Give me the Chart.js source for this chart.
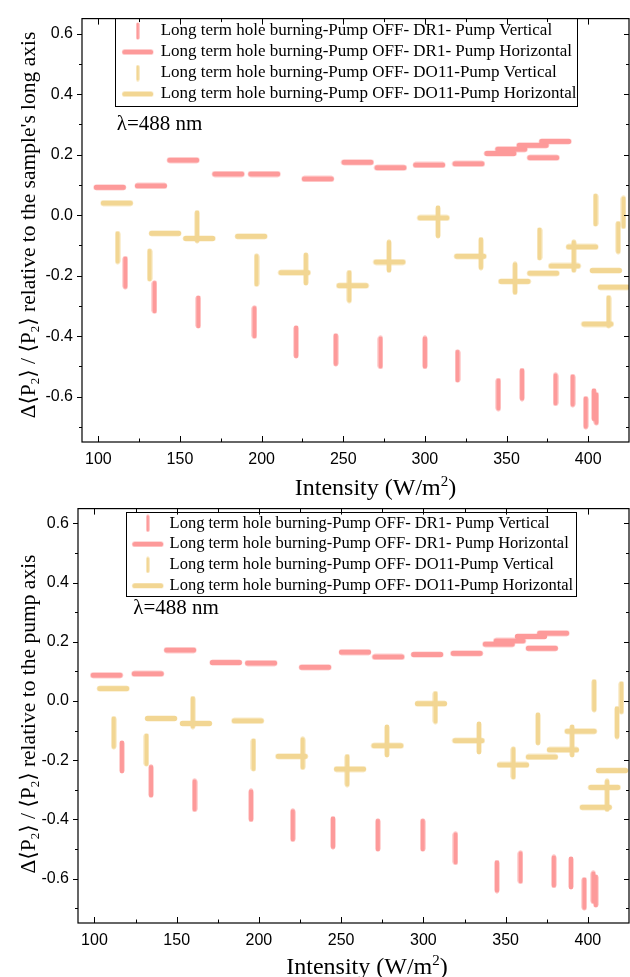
<!DOCTYPE html>
<html>
<head>
<meta charset="utf-8">
<script src="https://cdn.jsdelivr.net/npm/chart.js@4.4.0/dist/chart.umd.min.js"></script>
<style>
  body { margin: 0; background: #fff; width: 630px; height: 977px; position: relative; overflow: hidden; }
  canvas { position: absolute; left: 0; }
  #topChart { top: 0; }
  #bottomChart { top: 490px; }
</style>
</head>
<body>
<canvas id="topChart" width="630" height="505"></canvas>
<canvas id="bottomChart" width="630" height="487"></canvas>
<script>
const seriesNames = [
  'Long term hole burning-Pump OFF- DR1- Pump Vertical',
  'Long term hole burning-Pump OFF- DR1- Pump Horizontal',
  'Long term hole burning-Pump OFF- DO11-Pump Vertical',
  'Long term hole burning-Pump OFF- DO11-Pump Horizontal'
];
const xTickValues = [100, 150, 200, 250, 300, 350, 400];
const yTickValues = [-0.6, -0.4, -0.2, 0, 0.2, 0.4, 0.6];

// top panel: relative to the sample's long axis
const topDr1VertX = [116.5, 134.4, 161.2, 195.6, 221.1, 245.4, 272.8, 300, 320, 345, 359.5, 380, 390.5, 398.5, 403.5, 405];
const topDr1VertY = [-0.19, -0.271, -0.32, -0.354, -0.419, -0.445, -0.454, -0.454, -0.499, -0.593, -0.56, -0.576, -0.58, -0.653, -0.627, -0.64];
const topDr1HorX = [107, 132.2, 152, 179.6, 201.6, 234.4, 258.7, 278.9, 302.6, 326.7, 346.2, 352.9, 366, 379.8, 372.5];
const topDr1HorY = [0.092, 0.097, 0.182, 0.136, 0.136, 0.12, 0.175, 0.157, 0.166, 0.17, 0.204, 0.218, 0.231, 0.244, 0.19];
const topDo11VertX = [111.8, 131.4, 160.5, 196.9, 227.1, 253.7, 278, 308, 334.3, 355.2, 370.2, 391.2, 404.5, 421.6, 418.4, 412.5];
const topDo11VertY = [-0.107, -0.165, -0.038, -0.182, -0.178, -0.236, -0.136, -0.022, -0.127, -0.209, -0.095, -0.136, 0.017, 0.009, -0.074, -0.319];
const topDo11HorX = [111.3, 140.9, 161.8, 193.6, 220.1, 255.7, 278.3, 305.2, 327.8, 354.9, 372.5, 385.5, 396.3, 410.8, 415.7, 405.7];
const topDo11HorY = [0.04, -0.06, -0.077, -0.07, -0.19, -0.233, -0.155, -0.009, -0.136, -0.219, -0.192, -0.168, -0.105, -0.183, -0.238, -0.36];

// bottom panel: relative to the pump axis
const botDr1VertX = [116.7, 134.4, 160.9, 195.2, 220.6, 245, 272.3, 299.6, 319.5, 344.7, 359, 379.3, 389.7, 397.8, 403.3, 404.8];
const botDr1VertY = [-0.189, -0.271, -0.319, -0.353, -0.42, -0.445, -0.453, -0.453, -0.498, -0.593, -0.562, -0.576, -0.581, -0.651, -0.63, -0.642];
const botDr1HorX = [107.4, 132.4, 152.1, 179.9, 201.3, 234.2, 258.4, 278.7, 302.3, 326.3, 345.8, 352.4, 365.4, 378.9, 372];
const botDr1HorY = [0.087, 0.092, 0.172, 0.13, 0.128, 0.114, 0.165, 0.149, 0.157, 0.161, 0.192, 0.203, 0.218, 0.229, 0.178];
const botDo11VertX = [111.7, 131.6, 159.8, 196.7, 226.6, 253.7, 277.8, 307.3, 333.8, 354.7, 369.6, 390.4, 403.8, 420.4, 417.7, 411.7];
const botDo11VertY = [-0.107, -0.165, -0.039, -0.182, -0.177, -0.235, -0.135, -0.022, -0.125, -0.21, -0.094, -0.135, 0.018, 0.011, -0.073, -0.319];
const botDo11HorX = [111.4, 140.5, 161.7, 193.2, 219.9, 255.4, 278.1, 304.6, 327.4, 354.5, 372, 384.8, 395.6, 414.7, 410, 404.8];
const botDo11HorY = [0.042, -0.059, -0.076, -0.067, -0.187, -0.23, -0.151, -0.009, -0.134, -0.216, -0.189, -0.165, -0.102, -0.235, -0.292, -0.359];

const pink = '#fd9a9a';
const tan = '#f2d693';
const serif = '"Liberation Serif", "DejaVu Serif", serif';

Chart.defaults.font.family = '"Liberation Sans", Arial, sans-serif';
Chart.defaults.font.size = 16;
Chart.defaults.color = '#000';

// short rounded dash used as marker
function dash(color, vertical, len, lw) {
  const c = document.createElement('canvas');
  const th = Math.ceil(lw) + 1;
  c.width = vertical ? th : len;
  c.height = vertical ? len : th;
  const g = c.getContext('2d');
  g.strokeStyle = color;
  g.lineWidth = lw;
  g.lineCap = 'round';
  g.beginPath();
  const r = th / 2;
  if (vertical) { g.moveTo(r, r); g.lineTo(r, len - r); }
  else { g.moveTo(r, r); g.lineTo(len - r, r); }
  g.stroke();
  return c;
}
const marks = [dash(pink, true, 34, 4.8), dash(pink, false, 34, 5.4), dash(tan, true, 34, 4.8), dash(tan, false, 34, 5.4)];
const legendMarks = [dash(pink, true, 18, 3), dash(pink, false, 33, 5.2), dash(tan, true, 17, 3), dash(tan, false, 33, 5.2)];

function pts(xs, ys) {
  return xs.map((x, i) => ({x: x, y: ys[i]}));
}

function richText(ctx, parts, cx, cy, size, rotate) {
  ctx.save();
  ctx.translate(cx, cy);
  if (rotate) ctx.rotate(-Math.PI / 2);
  ctx.fillStyle = '#000';
  ctx.textBaseline = 'alphabetic';
  const big = size + 'px ' + serif;
  const small = Math.round(size * 0.62) + 'px ' + serif;
  let total = 0;
  parts.forEach(p => {
    ctx.font = p.s ? small : big;
    p.w = ctx.measureText(p.t).width;
    total += p.w;
  });
  let xx = -total / 2;
  parts.forEach(p => {
    ctx.font = p.s ? small : big;
    const dy = p.s === 'sub' ? size * 0.22 : (p.s === 'sup' ? -size * 0.4 : 0);
    ctx.fillText(p.t, xx, size * 0.35 + dy);
    xx += p.w;
  });
  ctx.restore();
}

const decor = {
  id: 'decor',
  afterLayout(chart, args, o) {
    const lg = chart.legend;
    lg.left = o.legendLeft;
    lg.right = o.legendLeft + 500;
    lg.top = o.legendTop;
    lg.bottom = o.legendTop + 200;
  },
  afterDraw(chart, args, o) {
    const {ctx, chartArea: a, scales: {x, y}} = chart;
    ctx.save();
    ctx.strokeStyle = '#000';
    ctx.lineWidth = 1.2;
    ctx.strokeRect(a.left, a.top, a.right - a.left, a.bottom - a.top);

    ctx.lineWidth = 1;
    ctx.beginPath();
    const xTick = (v, big) => {
      const p = Math.round(x.getPixelForValue(v)) + 0.5;
      const l = big ? 6 : 3.5;
      ctx.moveTo(p, a.bottom); ctx.lineTo(p, a.bottom - l);
      ctx.moveTo(p, a.top); ctx.lineTo(p, a.top + l);
    };
    const yTick = (v, big) => {
      const p = Math.round(y.getPixelForValue(v)) + 0.5;
      ctx.moveTo(a.left, p); ctx.lineTo(a.left - (big ? 5 : 3), p);
      ctx.moveTo(a.right, p); ctx.lineTo(a.right - (big ? 5 : 3), p);
    };
    x.ticks.forEach(t => {
      xTick(t.value, true);
      if (t.value + 25 < x.max) xTick(t.value + 25, false);
    });
    y.ticks.forEach((t, i) => {
      yTick(t.value, true);
      if (i === 0 && t.value - 0.1 > y.min) yTick(t.value - 0.1, false);
      if (t.value + 0.1 < y.max) yTick(t.value + 0.1, false);
    });
    ctx.stroke();

    // legend frame
    ctx.strokeRect(Math.round(o.boxLeft) + 0.5, Math.round(o.boxTop) + 0.5,
                   Math.round(o.boxRight - o.boxLeft), Math.round(o.boxBottom - o.boxTop));

    // wavelength note
    ctx.fillStyle = '#000';
    ctx.font = '21px ' + serif;
    ctx.textBaseline = 'alphabetic';
    ctx.fillText('\u03bb=488 nm', o.lambdaX, o.lambdaY);
    ctx.restore();

    richText(ctx, o.yTitle, o.yTitleX, o.yTitleY, 21.5, true);
    richText(ctx, [{t: 'Intensity (W/m'}, {t: '2', s: 'sup'}, {t: ')'}], o.xTitleX, o.xTitleY, 24, false);
  }
};

function makeChart(id, data, o) {
  return new Chart(document.getElementById(id), {
    type: 'scatter',
    data: {
      datasets: data.map((d, i) => ({
        label: seriesNames[i],
        data: d,
        pointStyle: marks[i],
        pointRadius: 17,
        pointHoverRadius: 17,
        showLine: false,
        backgroundColor: i < 2 ? pink : tan,
        borderColor: i < 2 ? pink : tan
      }))
    },
    options: {
      responsive: false,
      animation: false,
      events: [],
      layout: {autoPadding: false, padding: {top: 15, right: 1, left: 0, bottom: 0}},
      scales: {
        x: {
          type: 'linear',
          min: 90, max: 425,
          grid: {display: false, drawTicks: false},
          border: {display: false},
          ticks: {padding: 8, font: {size: 16}},
          afterBuildTicks: s => { s.ticks = xTickValues.map(v => ({value: v})); },
          afterFit: s => { s.height = o.xAxisH; }
        },
        y: {
          min: -0.75, max: 0.65,
          grid: {display: false, drawTicks: false},
          border: {display: false},
          ticks: {padding: 9, font: {size: 16}, callback: v => v.toFixed(1)},
          afterBuildTicks: s => { s.ticks = yTickValues.map(v => ({value: v})); },
          afterFit: s => { s.width = o.yAxisW; }
        }
      },
      plugins: {
        tooltip: {enabled: false},
        legend: {
          position: 'chartArea',
          align: 'start',
          labels: {
            usePointStyle: true, pointStyleWidth: o.legendMarkW, padding: o.legendPad,
            color: '#000', font: {family: serif, size: o.legendFont},
            generateLabels: chart => {
              const items = Chart.defaults.plugins.legend.labels.generateLabels(chart);
              items.forEach((it, i) => { it.pointStyle = legendMarks[i]; });
              return items;
            }
          }
        },
        decor: o
      }
    },
    plugins: [decor]
  });
}

makeChart('topChart', [
  pts(topDr1VertX, topDr1VertY),
  pts(topDr1HorX, topDr1HorY),
  pts(topDo11VertX, topDo11VertY),
  pts(topDo11HorX, topDo11HorY)
], {
  xAxisH: 63, yAxisW: 82,
  legendLeft: 119.2, legendTop: 18.5, legendPad: 4, legendFont: 17, legendMarkW: 29,
  boxLeft: 115.3, boxTop: 18, boxRight: 577, boxBottom: 106,
  lambdaX: 116.7, lambdaY: 130, yTitleX: 27, yTitleY: 225, xTitleX: 375.5, xTitleY: 487,
  yTitle: [{t: '\u0394\u27e8P'}, {t: '2', s: 'sub'}, {t: '\u27e9 / \u27e8P'}, {t: '2', s: 'sub'},
           {t: '\u27e9 relative to the sample\'s long axis'}]
});

makeChart('bottomChart', [
  pts(botDr1VertX, botDr1VertY),
  pts(botDr1HorX, botDr1HorY),
  pts(botDo11VertX, botDo11VertY),
  pts(botDo11HorX, botDo11HorY)
], {
  xAxisH: 54, yAxisW: 78,
  legendLeft: 130, legendTop: 20.75, legendPad: 4.3, legendFont: 16.5, legendMarkW: 27,
  boxLeft: 126, boxTop: 21.7, boxRight: 576, boxBottom: 106,
  lambdaX: 133.3, lambdaY: 124, yTitleX: 27, yTitleY: 224, xTitleX: 367, xTitleY: 476,
  yTitle: [{t: '\u0394\u27e8P'}, {t: '2', s: 'sub'}, {t: '\u27e9 / \u27e8P'}, {t: '2', s: 'sub'},
           {t: '\u27e9 relative to the pump axis'}]
});
</script>
</body>
</html>
